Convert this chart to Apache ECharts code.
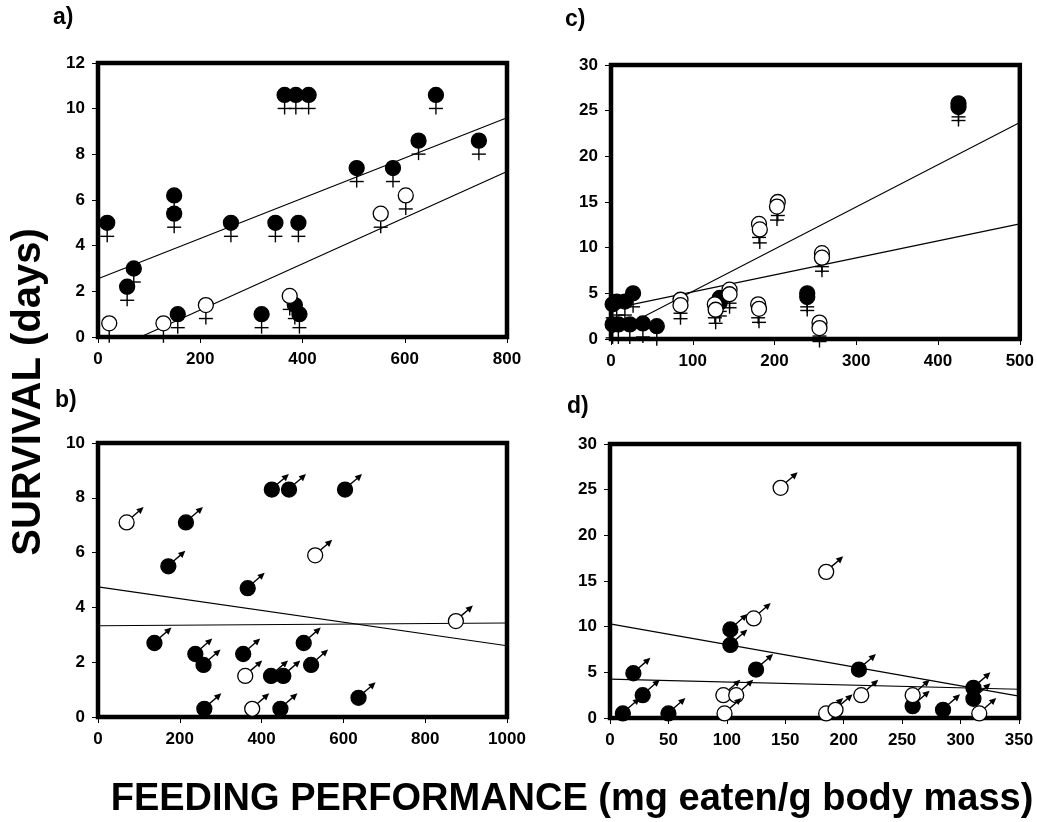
<!DOCTYPE html>
<html>
<head>
<meta charset="utf-8">
<script src="https://cdn.jsdelivr.net/npm/echarts@6/dist/echarts.min.js"></script>
<style>
html,body{margin:0;padding:0;background:#fff;}
#main{width:1037px;height:822px;}
</style>
</head>
<body>
<div id="main"></div>
<script>
// panel a) females, feeding vs survival
var aFilled = [[18,5.0],[57,2.2],[70,3.0],[149,6.2],[149,5.4],[156,1.0],[260,5.0],[320,1.0],[347,5.0],
    [365,10.6],[387,10.6],[412,10.6],[392,5.0],[385,1.4],[394,1.0],[506,7.4],[577,7.4],[627,8.6],[661,10.6],[745,8.6]];
var aOpen = [[22,0.6],[128,0.6],[211,1.4],[375,1.8],[553,5.4],[602,6.2]];
var aLines = [[[0,2.55],[800,9.6]], [[83,0],[800,7.25]]];

// panel b) males
var bFilled = [[425,8.3],[467,8.3],[604,8.3],[215,7.1],[172,5.5],[366,4.7],[138,2.7],[238,2.3],[258,1.9],
    [355,2.3],[423,1.5],[453,1.5],[503,2.7],[521,1.9],[260,0.3],[446,0.3],[637,0.7]];
var bOpen = [[70,7.1],[531,5.9],[360,1.5],[377,0.3],[875,3.5]];
var bLines = [[[0,4.75],[1000,2.6]], [[0,3.33],[1000,3.43]]];

// panel c) females
var cFilled = [[425,25.8],[425,25.4],[240,5.0],[240,4.6],[133,4.5],[133,4.0],
    [2,3.8],[7,4.1],[17,4.1],[27,5.0],[2,1.6],[9,1.6],[23,1.6],[39,1.7],[56,1.4]];
var cOpen = [[85,4.3],[85,3.7],[127,3.8],[128,3.2],[145,5.4],[145,4.9],[180,3.8],[181,3.3],
    [181,12.6],[182,12.0],[204,15.0],[203,14.5],[258,9.4],[258,8.9],[255,1.8],[255,1.2]];
var cLines = [[[0,0.6],[500,23.7]], [[0,3.3],[500,12.6]]];

// panel d) males
var dFilled = [[11,0.5],[20,4.9],[28,2.5],[50,0.5],[103,9.7],[103,8.0],[125,5.3],[213,5.3],
    [259,1.3],[285,0.9],[311,3.3],[311,2.1]];
var dOpen = [[146,25.2],[185,16.0],[123,10.9],[97,2.5],[108,2.5],[98,0.5],[185,0.5],[193,0.9],
    [215,2.5],[259,2.5],[316,0.5]];
var dLines = [[[0,10.3],[350,2.4]], [[0,4.25],[350,3.15]]];

var R = 7.5;

function symbolRenderer(open, sex) {
    return function (params, api) {
        var p = api.coord([api.value(0), api.value(1)]);
        var x = p[0], y = p[1];
        var kids = [];
        if (sex === 'f') {
            kids.push({type: 'line', shape: {x1: x, y1: y + R, x2: x, y2: y + R + 12},
                style: {stroke: '#000', lineWidth: 1.4}});
            kids.push({type: 'line', shape: {x1: x - 7, y1: y + R + 6, x2: x + 7, y2: y + R + 6},
                style: {stroke: '#000', lineWidth: 1.4}});
        } else {
            var tx = x + 17, ty = y - 15.5;
            var ux = 0.74, uy = -0.67;
            kids.push({type: 'line', shape: {x1: x + R * 0.7, y1: y - R * 0.7, x2: tx - ux * 5, y2: ty - uy * 5},
                style: {stroke: '#000', lineWidth: 1.4}});
            kids.push({type: 'polygon', shape: {points: [
                [tx, ty],
                [tx - ux * 7 - uy * 3.3, ty - uy * 7 + ux * 3.3],
                [tx - ux * 7 + uy * 3.3, ty - uy * 7 - ux * 3.3]
            ]}, style: {fill: '#000'}});
        }
        kids.push({type: 'circle', shape: {cx: x, cy: y, r: R},
            style: {fill: open ? '#fff' : '#000', stroke: '#000', lineWidth: 1.3}});
        return {type: 'group', children: kids};
    };
}

var axisFont = {color: '#000', fontFamily: 'Liberation Sans, Arial, sans-serif', fontWeight: 'bold', fontSize: 17,
    formatter: function (v) { return String(v); }};

function xAxis(idx, max, interval) {
    return {gridIndex: idx, type: 'value', min: 0, max: max, interval: interval,
        axisLine: {show: true, lineStyle: {color: '#000', width: 1}},
        axisTick: {show: true, length: 6, lineStyle: {color: '#000'}},
        axisLabel: Object.assign({margin: 14}, axisFont),
        splitLine: {show: false}};
}
function yAxis(idx, max, interval) {
    return {gridIndex: idx, type: 'value', min: 0, max: max, interval: interval,
        axisLine: {show: true, lineStyle: {color: '#000', width: 1}},
        axisTick: {show: true, length: 6, lineStyle: {color: '#000'}},
        axisLabel: Object.assign({margin: 13}, axisFont),
        splitLine: {show: false}};
}

var series = [];
function addPanel(idx, filled, open, lines, sex) {
    lines.forEach(function (l) {
        series.push({type: 'line', xAxisIndex: idx, yAxisIndex: idx, data: l, symbol: 'none', silent: true,
            lineStyle: {color: '#000', width: 1.2}, z: 2, clip: false});
    });
    series.push({type: 'custom', xAxisIndex: idx, yAxisIndex: idx, data: filled, clip: false, z: 3,
        renderItem: symbolRenderer(false, sex)});
    series.push({type: 'custom', xAxisIndex: idx, yAxisIndex: idx, data: open, clip: false, z: 4,
        renderItem: symbolRenderer(true, sex)});
}
addPanel(0, aFilled, aOpen, aLines, 'f');
addPanel(1, cFilled, cOpen, cLines, 'f');
addPanel(2, bFilled, bOpen, bLines, 'm');
addPanel(3, dFilled, dOpen, dLines, 'm');

var gridStyle = {show: true, borderColor: '#000', borderWidth: 4.5, backgroundColor: 'transparent'};
var labelFont = {fill: '#000', fontFamily: 'Liberation Sans, Arial, sans-serif', fontWeight: 'bold'};

var chart = echarts.init(document.getElementById('main'));
chart.setOption({
    animation: false,
    backgroundColor: '#fff',
    grid: [
        Object.assign({left: 98, top: 63, width: 409, height: 274}, gridStyle),
        Object.assign({left: 611, top: 65, width: 409, height: 274}, gridStyle),
        Object.assign({left: 98, top: 443, width: 409, height: 274}, gridStyle),
        Object.assign({left: 610, top: 444, width: 409, height: 274}, gridStyle)
    ],
    xAxis: [xAxis(0, 800, 200), xAxis(1, 500, 100), xAxis(2, 1000, 200), xAxis(3, 350, 50)],
    yAxis: [yAxis(0, 12, 2), yAxis(1, 30, 5), yAxis(2, 10, 2), yAxis(3, 30, 5)],
    series: series,
    graphic: [
        {type: 'text', left: 53, top: 6, style: Object.assign({text: 'a)', fontSize: 23}, labelFont)},
        {type: 'text', left: 565, top: 8, style: Object.assign({text: 'c)', fontSize: 23}, labelFont)},
        {type: 'text', left: 55, top: 389, style: Object.assign({text: 'b)', fontSize: 23}, labelFont)},
        {type: 'text', left: 567, top: 395, style: Object.assign({text: 'd)', fontSize: 23}, labelFont)},
        {type: 'text', x: 29, y: 392, rotation: Math.PI / 2,
            style: Object.assign({text: 'SURVIVAL (days)', fontSize: 40, align: 'center', verticalAlign: 'middle'}, labelFont)},
        {type: 'text', x: 572, y: 800,
            style: Object.assign({text: 'FEEDING PERFORMANCE (mg eaten/g body mass)', fontSize: 38, align: 'center', verticalAlign: 'middle'}, labelFont)}
    ]
});
</script>
</body>
</html>
